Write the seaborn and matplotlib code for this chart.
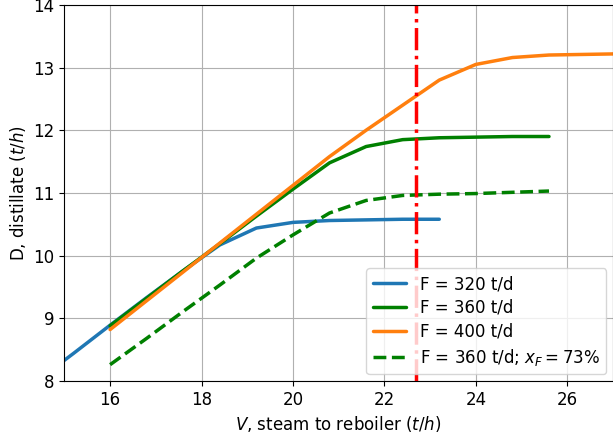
import numpy as np
import pandas as pd
import matplotlib
matplotlib.use("Agg")
import matplotlib.pyplot as plt
import seaborn as sns

# Steam flow to reboiler (t/h) and distillate flow (t/h) for each feed case
v_320 = [14.4, 15.2, 16.0, 16.8, 17.6, 18.4, 19.2, 20.0, 20.8, 21.6, 22.4, 23.2]
d_320 = [8.00, 8.44, 8.89, 9.33, 9.76, 10.17, 10.44, 10.53, 10.56, 10.57, 10.58, 10.58]

v_360 = [16.0, 16.8, 17.6, 18.4, 19.2, 20.0, 20.8, 21.6, 22.4, 23.2, 24.0, 24.8, 25.6]
d_360 = [8.88, 9.32, 9.76, 10.19, 10.63, 11.06, 11.48, 11.74, 11.85, 11.88, 11.89, 11.90, 11.90]

v_400 = [16.0, 16.8, 17.6, 18.4, 19.2, 20.0, 20.8, 21.6, 22.4, 23.2, 24.0, 24.8, 25.6, 26.4, 27.2]
d_400 = [8.82, 9.28, 9.74, 10.20, 10.66, 11.12, 11.58, 12.00, 12.40, 12.80, 13.05, 13.16, 13.20, 13.21, 13.22]

v_360_x73 = [16.0, 16.8, 17.6, 18.4, 19.2, 20.0, 20.8, 21.6, 22.4, 23.2, 24.0, 24.8, 25.6]
d_360_x73 = [8.26, 8.68, 9.11, 9.53, 9.96, 10.33, 10.68, 10.88, 10.96, 10.98, 10.99, 11.01, 11.03]

v_limit = 22.7  # maximum available steam

labels = ["F = 320 t/d", "F = 360 t/d", "F = 400 t/d",
          r"F = 360 t/d; $x_F = 73\%$"]

sns.set_style("ticks")
plt.rcParams["font.family"] = ["DejaVu Sans"]
plt.rcParams["font.size"] = 12
plt.rcParams["mathtext.fontset"] = "dejavusans"
for key in ["text.color", "axes.labelcolor", "xtick.color", "ytick.color",
            "axes.edgecolor"]:
    plt.rcParams[key] = "black"

fig = plt.figure(figsize=(6.13, 4.43), dpi=100)
ax = fig.add_axes([0.105, 0.14, 0.895, 0.849])

series = [
    (v_320, d_320, "#1f77b4", "-"),
    (v_360, d_360, "green", "-"),
    (v_400, d_400, "#ff7f0e", "-"),
    (v_360_x73, d_360_x73, "green", "--"),
]
for (v, d, c, ls), lab in zip(series, labels):
    df = pd.DataFrame({"V": v, "D": d})
    sns.lineplot(data=df, x="V", y="D", ax=ax, color=c, linestyle=ls,
                 linewidth=2.5, label=lab, sort=False)

ax.axvline(v_limit, color="red", linestyle="-.", linewidth=2.5)

ax.set_xlim(15, 27)
ax.set_ylim(8, 14)
ax.set_xticks([16, 18, 20, 22, 24, 26])
ax.set_yticks([8, 9, 10, 11, 12, 13, 14])
ax.grid(True, color="#b0b0b0", linewidth=0.8)
ax.set_xlabel(r"$V$, steam to reboiler ($t/h$)")
ax.set_ylabel(r"D, distillate ($t/h$)")
ax.tick_params(labelsize=12)
for s in ax.spines.values():
    s.set_visible(True)
    s.set_color("black")

ax.legend(loc="lower right", fontsize=12, framealpha=0.8,
          labelspacing=0.35, borderaxespad=0.4)

fig.savefig("out.png", dpi=100)
